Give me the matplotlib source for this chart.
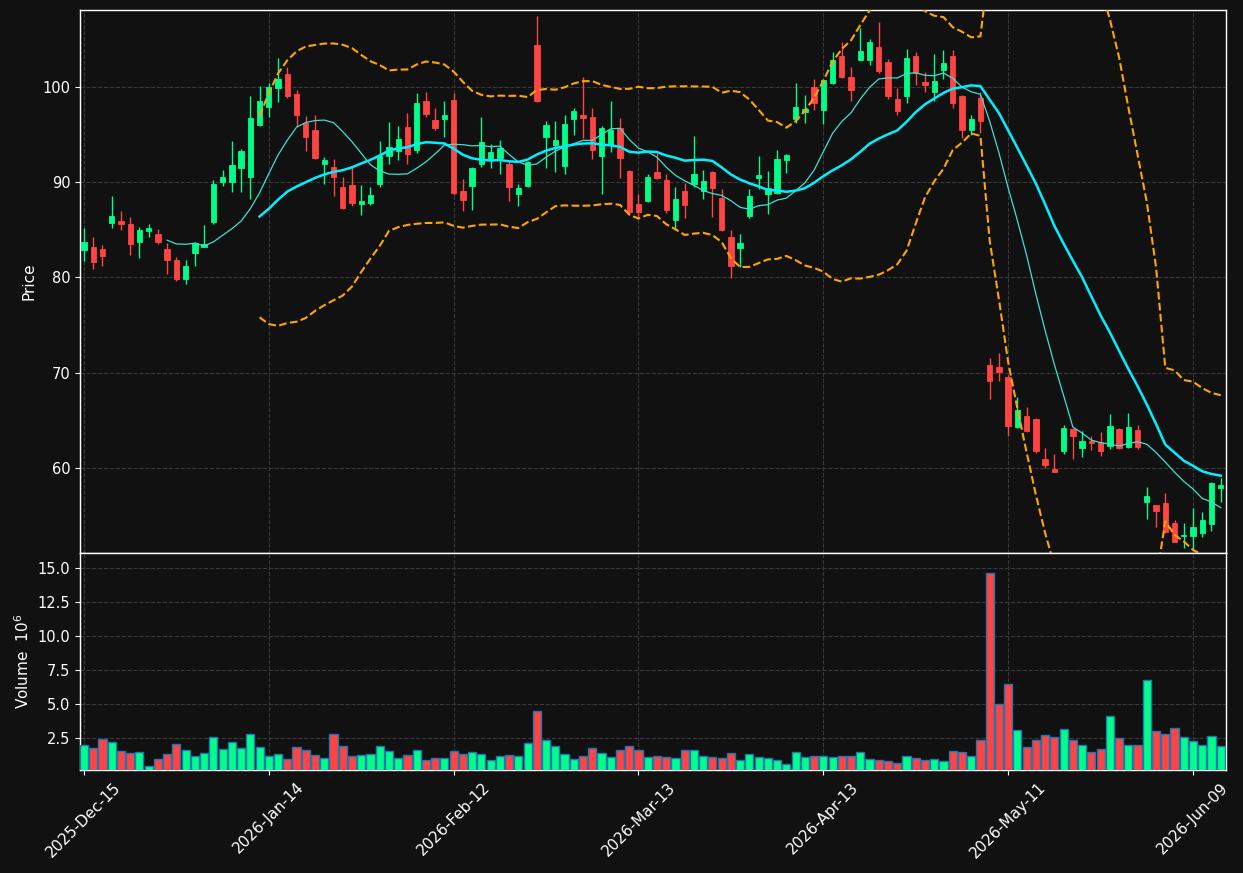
import numpy as np
import pandas as pd
import matplotlib
matplotlib.use("Agg")
import matplotlib.pyplot as plt

# ---------------- data ----------------
start_date = "2025-12-15"
holidays = ["2025-12-25", "2026-01-01", "2026-01-19", "2026-02-16", "2026-04-03", "2026-05-25"]

opens = [82.90, 83.20, 83.00, 85.72, 85.93, 85.65, 83.76, 84.91, 84.57, 82.96,
         81.84, 79.87, 82.60, 83.20, 85.83, 90.03, 90.06, 91.53, 90.58, 96.04,
         97.93, 99.93, 101.36, 99.27, 96.19, 95.49, 91.95, 91.60, 89.50, 89.71,
         87.75, 87.85, 89.82, 92.76, 93.31, 95.80, 93.42, 98.53, 96.50, 96.67,
         98.64, 89.08, 89.61, 91.95, 92.41, 92.55, 91.95, 88.77, 89.64, 104.41,
         94.78, 93.94, 91.74, 96.67, 97.06, 96.85, 92.79, 93.99, 95.73, 91.18,
         87.72, 88.03, 91.04, 90.24, 86.07, 89.08, 89.85, 89.05, 91.08, 88.35,
         84.25, 83.13, 86.49, 90.48, 88.73, 88.84, 92.38, 96.61, 97.34, 100.03,
         97.59, 100.45, 103.25, 101.05, 102.87, 102.83, 104.20, 102.62, 98.74, 99.09,
         103.25, 100.52, 99.51, 101.75, 103.25, 99.06, 95.49, 98.88, 70.81, 70.60,
         69.55, 64.34, 65.46, 65.14, 60.94, 59.90, 61.82, 64.09, 62.13, 62.87,
         62.70, 62.34, 64.09, 62.20, 63.99, 56.43, 56.12, 56.36, 54.23, 52.91,
         52.89, 53.21, 54.15, 57.93]
highs = [85.17, 84.22, 83.38, 88.56, 86.95, 86.35, 85.30, 85.62, 85.06, 83.59,
         82.18, 81.81, 83.70, 85.48, 90.24, 91.30, 94.33, 93.49, 99.02, 100.10,
         100.39, 103.01, 102.07, 99.65, 96.96, 97.03, 92.62, 92.44, 90.52, 91.57,
         89.68, 89.47, 94.30, 96.29, 95.91, 97.24, 99.37, 99.44, 97.76, 98.50,
         99.34, 90.34, 91.63, 96.85, 93.98, 94.44, 92.10, 89.78, 92.26, 107.45,
         96.43, 96.43, 97.03, 97.76, 101.02, 97.76, 95.91, 98.53, 96.75, 91.25,
         88.80, 90.83, 93.10, 90.83, 89.47, 89.89, 94.86, 91.25, 91.21, 89.32,
         84.99, 84.54, 89.26, 92.76, 91.15, 93.35, 92.97, 100.45, 99.19, 100.81,
         100.84, 103.64, 104.69, 102.07, 106.16, 105.07, 106.82, 102.97, 99.93, 103.96,
         103.71, 101.57, 103.43, 103.85, 103.85, 99.16, 97.06, 99.51, 71.52, 72.04,
         69.76, 67.42, 66.37, 65.28, 62.07, 61.44, 64.51, 64.20, 63.92, 63.39,
         63.75, 65.64, 64.15, 65.81, 64.51, 57.97, 56.15, 57.38, 54.54, 54.19,
         55.77, 55.35, 58.56, 58.98]
lows = [81.73, 80.86, 81.24, 85.23, 85.02, 82.39, 82.02, 84.22, 83.49, 80.40,
        79.60, 79.35, 81.18, 83.20, 85.65, 89.60, 89.01, 89.01, 88.21, 95.94,
        96.88, 98.39, 98.88, 95.87, 93.25, 92.41, 89.78, 88.52, 87.16, 87.48,
        86.53, 87.58, 89.47, 91.88, 92.30, 91.88, 93.04, 96.82, 95.52, 94.78,
        88.66, 86.98, 87.09, 91.57, 91.46, 90.90, 88.00, 87.51, 89.47, 98.43,
        91.46, 91.04, 90.90, 94.93, 94.68, 92.41, 88.73, 93.14, 90.41, 86.67,
        86.38, 87.90, 90.31, 86.80, 84.99, 86.22, 89.47, 88.27, 86.32, 84.91,
        79.92, 81.13, 86.22, 89.26, 86.64, 88.80, 90.94, 96.25, 96.25, 97.59,
        96.08, 100.31, 100.91, 98.50, 102.83, 102.28, 101.44, 98.74, 97.03, 98.29,
        100.18, 99.48, 98.56, 100.84, 97.76, 94.61, 94.93, 95.14, 67.21, 69.16,
        63.39, 64.23, 63.81, 61.61, 59.97, 59.55, 61.44, 60.91, 61.19, 61.89,
        61.29, 61.96, 62.03, 62.15, 61.96, 54.68, 53.84, 53.14, 52.20, 51.57,
        51.39, 52.79, 53.42, 56.46]
closes = [83.76, 81.66, 82.29, 86.46, 85.65, 83.55, 84.99, 85.20, 83.73, 81.87,
          79.87, 81.21, 83.59, 83.49, 89.82, 90.55, 91.81, 93.28, 96.75, 98.53,
          100.00, 100.84, 99.09, 97.09, 94.78, 92.55, 92.34, 90.58, 87.33, 87.85,
          88.03, 88.66, 92.76, 93.70, 94.54, 93.00, 98.32, 97.20, 95.73, 97.06,
          88.90, 88.17, 91.53, 94.23, 93.18, 93.60, 89.53, 89.43, 92.09, 98.56,
          96.01, 94.44, 96.12, 97.48, 96.78, 93.42, 95.70, 95.49, 92.58, 86.85,
          86.91, 90.55, 90.48, 87.06, 88.24, 87.61, 90.87, 90.13, 89.43, 84.99,
          81.24, 83.59, 88.52, 90.73, 89.36, 92.41, 92.86, 97.93, 97.66, 98.30,
          100.73, 102.83, 101.08, 99.72, 103.78, 104.72, 101.65, 99.09, 97.51, 103.04,
          101.50, 100.18, 100.63, 102.52, 98.35, 95.49, 96.64, 96.43, 69.16, 70.11,
          64.44, 66.09, 63.92, 61.82, 60.31, 59.61, 64.20, 63.39, 62.83, 62.66,
          61.82, 64.41, 62.13, 64.30, 62.20, 57.06, 55.52, 53.31, 52.26, 53.02,
          53.77, 54.54, 58.42, 58.22]
volumes_m = [1.99, 1.76, 2.45, 2.21, 1.54, 1.40, 1.47, 0.49, 0.96, 1.32,
             2.06, 1.62, 1.18, 1.40, 2.57, 1.69, 2.21, 1.76, 2.79, 1.84,
             1.18, 1.32, 0.96, 1.84, 1.62, 1.25, 1.03, 2.79, 1.91, 1.18,
             1.25, 1.32, 1.91, 1.54, 1.03, 1.25, 1.62, 0.88, 1.03, 1.03,
             1.54, 1.32, 1.47, 1.32, 0.88, 1.18, 1.25, 1.18, 2.13, 4.49,
             2.35, 1.91, 1.32, 0.96, 1.18, 1.76, 1.40, 1.10, 1.62, 1.91,
             1.62, 1.10, 1.18, 1.10, 1.03, 1.62, 1.62, 1.18, 1.10, 1.03,
             1.40, 0.88, 1.32, 1.10, 1.03, 0.88, 0.59, 1.47, 1.10, 1.18,
             1.18, 1.10, 1.18, 1.18, 1.47, 0.96, 0.88, 0.81, 0.66, 1.18,
             1.03, 0.88, 0.96, 0.81, 1.54, 1.47, 1.18, 2.35, 14.63, 5.00,
             6.47, 3.09, 1.84, 2.35, 2.72, 2.57, 3.16, 2.35, 1.99, 1.47,
             1.69, 4.12, 2.50, 1.99, 1.99, 6.76, 3.01, 2.79, 3.24, 2.57,
             2.28, 1.99, 2.65, 1.91]

mav_short, mav_long = 10, 20
bb_window, bb_k = 20, 2

# ---------------- styling ----------------
BG = "#111111"
UP = "#00ff88"
DOWN = "#ff4444"
GRID = "#3a3a3a"

dates = pd.bdate_range(start=start_date, periods=len(closes), freq="C", holidays=holidays)
x = np.arange(len(closes))
o = np.array(opens); h = np.array(highs); l = np.array(lows); c = np.array(closes)
v = np.array(volumes_m)
up = c >= o
colors = np.where(up, UP, DOWN)

cs = pd.Series(c)
ma_s = cs.rolling(mav_short).mean()
ma_l = cs.rolling(mav_long).mean()
bb_mid = cs.rolling(bb_window).mean()
bb_sd = cs.rolling(bb_window).std()
bb_up = bb_mid + bb_k * bb_sd
bb_lo = bb_mid - bb_k * bb_sd

fig = plt.figure(figsize=(12.43, 8.73), dpi=100, facecolor=BG)
W, H = 1243, 873
L, R = 80, 1226
ax = fig.add_axes([L / W, 1 - 553 / H, (R - L) / W, (553 - 10) / H])
axv = fig.add_axes([L / W, 1 - 770 / H, (R - L) / W, (770 - 553) / H], sharex=ax)

for a in (ax, axv):
    a.set_facecolor(BG)
    for s in a.spines.values():
        s.set_color("white")
        s.set_linewidth(1.0)
    a.tick_params(colors="white", labelsize=10.5)
    a.grid(True, color=GRID, linestyle="--", linewidth=0.8)
    a.set_axisbelow(True)

# candles
ax.vlines(x, l, h, colors=colors, linewidth=1.0, zorder=2)
body_bottom = np.minimum(o, c)
body_h = np.maximum(np.abs(c - o), 0.05)
ax.bar(x, body_h, bottom=body_bottom, width=0.58, color=colors, edgecolor=colors,
       linewidth=0.6, zorder=3)

# moving averages & bands
ax.plot(x, ma_s, color="#40e0d0", linewidth=0.9, zorder=4)
ax.plot(x, ma_l, color="#00f0ff", linewidth=1.8, zorder=4)
ax.plot(x, bb_up, color="#ffa500", linewidth=1.5, linestyle="--", zorder=4)
ax.plot(x, bb_lo, color="#ffa500", linewidth=1.5, linestyle="--", zorder=4)

ax.set_ylim(51.08, 108.08)
ax.set_yticks([60, 70, 80, 90, 100])
ax.set_ylabel("Price", color="white", fontsize=11)
ax.tick_params(axis="x", labelbottom=False, length=0)

# volume
axv.bar(x, v, width=0.88, color=colors, edgecolor="#1f77b4", linewidth=1.0, zorder=3)
axv.set_ylim(0.17, 16.12)
axv.set_yticks([2.5, 5.0, 7.5, 10.0, 12.5, 15.0])
axv.set_yticklabels([f"{t:.1f}" for t in [2.5, 5.0, 7.5, 10.0, 12.5, 15.0]])
axv.set_ylabel("Volume  $10^{6}$", color="white", fontsize=11)

tick_pos = x[::20]
axv.set_xticks(tick_pos)
axv.set_xticklabels([d.strftime("%Y-%b-%d") for d in dates[::20]], rotation=45, ha="center",
                    fontsize=11)
axv.set_xlim(-0.43, 123.57)

fig.savefig("out.png", dpi=100, facecolor=BG)
